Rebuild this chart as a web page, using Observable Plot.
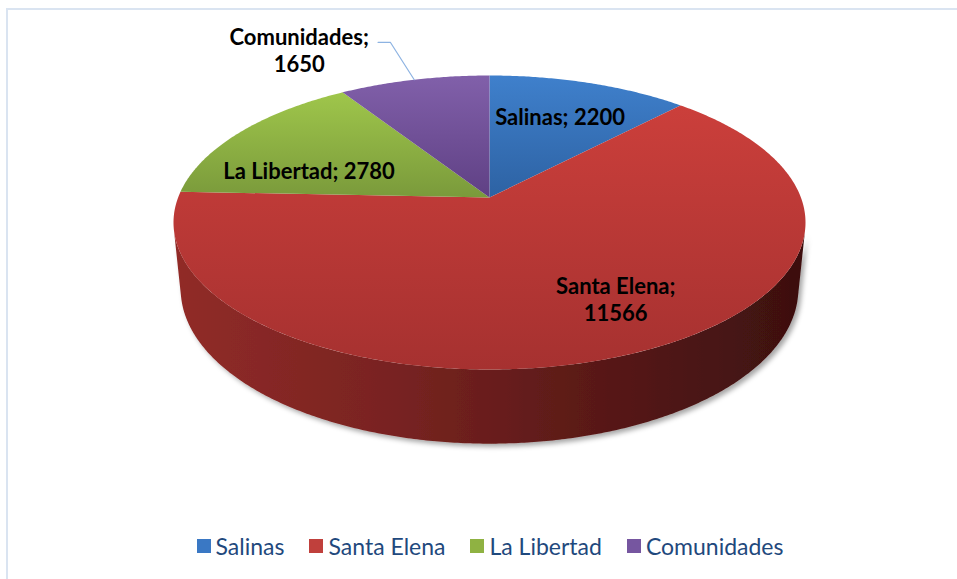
<!DOCTYPE html>
<html><head><meta charset="utf-8">
<script src="https://cdn.jsdelivr.net/npm/d3@7"></script>
<script src="https://cdn.jsdelivr.net/npm/@observablehq/plot@0.6"></script>
<style>
html,body{margin:0;padding:0;background:#fff;}
body{width:957px;height:579px;overflow:hidden;position:relative;font-family:Lato,sans-serif;}
#frame{position:absolute;left:6px;top:8px;width:1100px;height:1100px;border-left:2px solid #dae4f1;border-top:2px solid #dae4f1;pointer-events:none;}
#chart{position:absolute;left:0;top:0;}
#legend{position:absolute;left:23px;width:934px;top:529px;height:34px;display:flex;justify-content:center;align-items:center;gap:25px;font-size:23px;color:#1f497d;}
.item{display:flex;align-items:center;gap:5px;}
.sw{width:14px;height:14px;}
</style></head><body>
<div id="chart"></div><div id="legend"></div><div id="frame"></div>
<script>
// ---- data ----
const categories = ["Salinas", "Santa Elena", "La Libertad", "Comunidades"];
const values = [2200, 11566, 2780, 1650];
const wrapLabel = [false, true, false, true];

// ---- style / layout ----
const topColors = [["#3f80cc", "#2d62a3"], ["#cb3f3b", "#a63130"], ["#9fc64b", "#7a9a3b"], ["#8160aa", "#5f4084"]];
const swatch = ["#3a78c4", "#c0403c", "#8fb242", "#7656a0"];
// label spots in disc polar coords [radius, angle deg]
const labelSpots = [[0.675, 21.8], [0.73, 150.3], [0.63, 288.1], [1.456, 329.4]];

// ---- 3D perspective projection ----
const alpha = 28 * Math.PI / 180, D = 5.2, T = 0.25;
const sa = Math.sin(alpha), ca = Math.cos(alpha), rad = Math.PI / 180;
function P(deg, r = 1, h = 0) {
  const t = deg * rad, u = r * Math.sin(t), v = r * Math.cos(t);
  const yc = h * ca + v * sa, z = D + v * ca - h * sa;
  return {x: u / z, y: yc / z};
}
function arc(a0, a1, r, h) {
  const n = Math.max(2, Math.ceil(Math.abs(a1 - a0) / 0.5));
  return d3.range(n + 1).map(k => P(a0 + (a1 - a0) * k / n, r, h));
}

const total = d3.sum(values);
let acc = 0;
const slices = values.map((v, i) => {
  const a0 = acc / total * 360; acc += v; const a1 = acc / total * 360;
  return {i, a0, a1, mid: (a0 + a1) / 2, poly: [P(0, 0, 0), ...arc(a0, a1, 1, 0)]};
});

const sil = Math.acos(-1 / (D * ca)) / rad;
const side = [...arc(sil, 360 - sil, 1, 0), ...arc(360 - sil, sil, 1, -T)];

const rim = arc(0, 360, 1, 0);
const xExt = d3.extent(rim, d => d.x), yExt = d3.extent(rim, d => d.y);

const labels = slices.map((s, i) => {
  const p = P(labelSpots[i][1], labelSpots[i][0], 0);
  return {x: p.x, y: p.y, text: categories[i] + ";" + (wrapLabel[i] ? "\n" : " ") + values[i]};
});
const cm = slices[3].mid;
const leader = [P(cm, 1.0, 0), P(cm, 1.39, 0), P(cm - 1.9, 1.403, 0)];

const chart = Plot.plot({
  width: 957, height: 522, margin: 0,
  x: {domain: xExt, range: [173, 805], axis: null},
  y: {domain: yExt, range: [369, 75], axis: null},
  marks: [
    Plot.line(side, {x: "x", y: "y", fill: "url(#gSide)", stroke: "none"}),
    ...slices.map(s => Plot.line(s.poly, {x: "x", y: "y", fill: `url(#g${s.i})`, stroke: "none"})),
    Plot.line(leader, {x: "x", y: "y", stroke: "#8db3e2", strokeWidth: 1.2}),
    Plot.text(labels, {x: "x", y: "y", text: "text", fontWeight: "bold", fontSize: 22, fontFamily: "Lato", fill: "#000", lineHeight: 1.23, lineAnchor: "middle"})
  ]
});

const ns = "http://www.w3.org/2000/svg";
const defs = document.createElementNS(ns, "defs");
defs.innerHTML =
  topColors.map((c, i) => `<linearGradient id="g${i}" x1="0" y1="0" x2="0" y2="1"><stop offset="0" stop-color="${c[0]}"/><stop offset="1" stop-color="${c[1]}"/></linearGradient>`).join("") +
  `<linearGradient id="gSide" x1="0" y1="0" x2="1" y2="0"><stop offset="0" stop-color="#912b28"/><stop offset="0.35" stop-color="#782321"/><stop offset="0.7" stop-color="#561816"/><stop offset="1" stop-color="#3c1010"/></linearGradient>` +
  `<filter id="shadow" x="-10%" y="-10%" width="120%" height="130%"><feDropShadow dx="3" dy="3" stdDeviation="2.5" flood-color="#000" flood-opacity="0.35"/></filter>`;
chart.insertBefore(defs, chart.firstChild);
const lineGroups = chart.querySelectorAll('g[aria-label="line"]');
if (lineGroups.length) lineGroups[0].setAttribute("filter", "url(#shadow)");
document.getElementById("chart").appendChild(chart);

const legend = document.getElementById("legend");
categories.forEach((c, i) => {
  const it = document.createElement("div"); it.className = "item";
  it.innerHTML = `<div class="sw" style="background:${swatch[i]}"></div><span>${c}</span>`;
  legend.appendChild(it);
});
</script>
</body></html>
